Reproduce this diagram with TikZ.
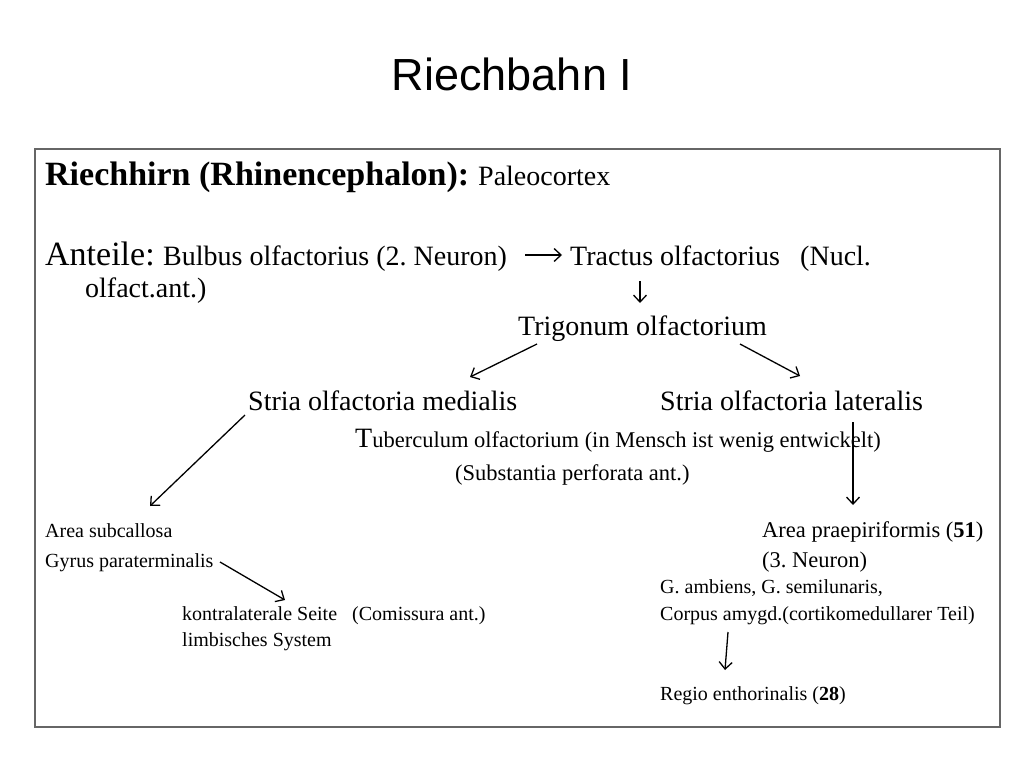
\documentclass[tikz,border=0pt]{standalone}
\usepackage{fontspec}
\setmainfont{Liberation Serif}
\newfontfamily\titlefont{Liberation Sans}
\usetikzlibrary{arrows.meta}
\frenchspacing
\tikzset{
	textnode/.style = {
		inner sep=0pt,
		anchor=base west,
		font=\fontsize{28}{32}\selectfont
	},
	node_head/.style = {
		textnode,
		font=\fontsize{34}{38}\selectfont\bfseries
	},
	node_big/.style = {
		textnode,
		font=\fontsize{34}{38}\selectfont
	},
	node_mid/.style = {
		textnode,
		font=\fontsize{22.5}{26}\selectfont
	},
	node_low/.style = {
		textnode,
		font=\fontsize{20}{24}\selectfont
	},
	link/.style = {
		->,
		line width=1.3pt
	},
}

\begin{document}
\begin{tikzpicture}[x=1pt,y=-1pt,>={Straight Barb[length=7pt,width=13pt]}]
\useasboundingbox (0,0) rectangle (1024,768);
\draw[black!60, line width=1.5pt] (35,149) rectangle (1000,727);
\node[anchor=base, inner sep=0pt, font=\titlefont\fontsize{45}{50}\selectfont] (title) at (512,90) {Riechbahn I};
% upper part
\node[node_head] (riech) at (45,185) {Riechhirn (Rhinencephalon):};
\node[textnode] (paleo) at (478,185) {Paleocortex};
\node[node_big] (anteile) at (45,265) {Anteile:};
\node[textnode] (bulbus) at (163,265) {Bulbus olfactorius (2. Neuron)};
\node[textnode] (tractus) at (570,265) {Tractus olfactorius};
\node[textnode] (nucl) at (800,265) {(Nucl.};
\node[textnode] (olfant) at (85,297) {olfact.ant.)};
\node[textnode] (trigonum) at (518,335) {Trigonum olfactorium};
\node[textnode] (medialis) at (248,410) {Stria olfactoria medialis};
\node[textnode] (lateralis) at (660,410) {Stria olfactoria lateralis};
\node[node_mid] (tuber) at (355,447) {{\fontsize{28}{32}\selectfont T}uberculum olfactorium (in Mensch ist wenig entwickelt)};
\node[node_mid] (subst) at (455,480) {(Substantia perforata ant.)};
% lower left
\node[node_low] (area_sub) at (45,537) {Area subcallosa};
\node[node_low] (gyrus) at (45,567) {Gyrus paraterminalis};
\node[node_low] (kontra) at (182,620) {kontralaterale Seite};
\node[node_low] (comiss) at (352,620) {(Comissura ant.)};
\node[node_low] (limb) at (182,646) {limbisches System};
% lower right
\node[node_mid] (area_prae) at (762,537) {Area praepiriformis (\textbf{51})};
\node[node_mid] (neuron3) at (762,567) {(3. Neuron)};
\node[node_low] (ambiens) at (660,593) {G. ambiens, G. semilunaris,};
\node[node_low] (corpus) at (660,620) {Corpus amygd.(cortikomedullarer Teil)};
\node[node_low] (regio) at (660,700) {Regio enthorinalis (\textbf{28})};
% arrows
\draw[link] ([shift={(18pt,10pt)}]bulbus.base east) -- ([shift={(-8pt,10pt)}]tractus.base west);
\draw[link] ([shift={(70pt,-16pt)}]tractus.base west) -- ([shift={(122pt,32pt)}]trigonum.base west);
\draw[link] ([shift={(19pt,-9pt)}]trigonum.base west) -- ([shift={(222pt,33pt)}]medialis.base west);
\draw[link] ([shift={(222pt,-9pt)}]trigonum.base west) -- ([shift={(140pt,34pt)}]lateralis.base west);
\draw[link] ([shift={(-3pt,-5pt)}]medialis.base west) -- ([shift={(105pt,31pt)}]area_sub.base west);
\draw[link] ([shift={(193pt,-12pt)}]lateralis.base west) -- ([shift={(91pt,32pt)}]area_prae.base west);
\draw[link] ([shift={(175pt,5pt)}]gyrus.base west) -- ([shift={(103pt,20pt)}]kontra.base west);
\draw[link] ([shift={(68pt,-12pt)}]corpus.base west) -- ([shift={(65pt,30pt)}]regio.base west);
\end{tikzpicture}
\end{document}
